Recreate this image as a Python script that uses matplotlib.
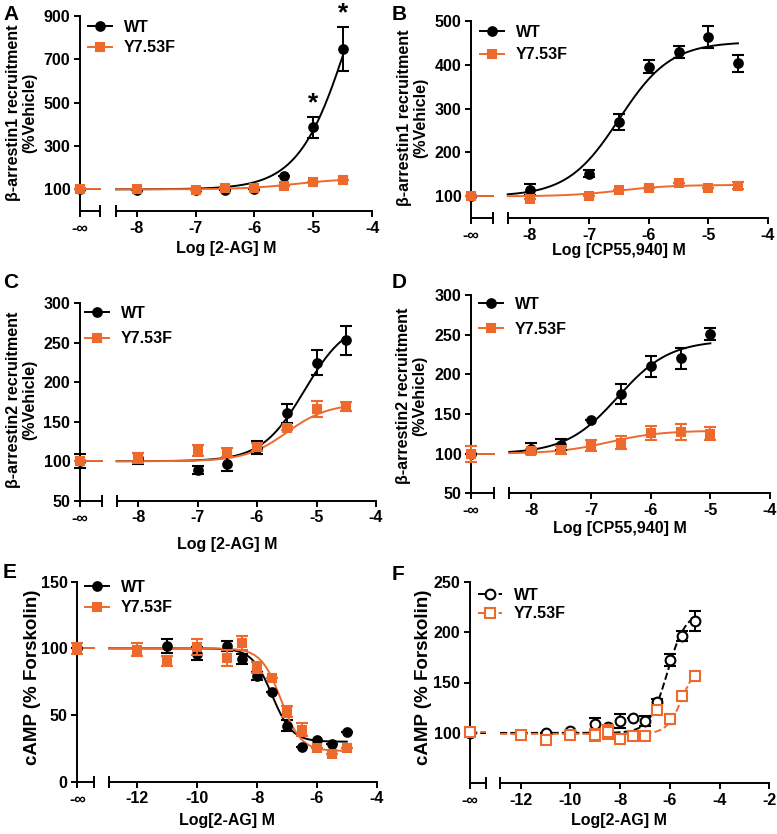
import numpy as np
import matplotlib
matplotlib.use('Agg')
import matplotlib.pyplot as plt
from matplotlib.lines import Line2D

plt.rcParams['font.family'] = ['Liberation Sans', 'DejaVu Sans']
plt.rcParams['font.weight'] = 'bold'
plt.rcParams['axes.linewidth'] = 1.4

W, H = 777, 834
BLACK = '#000000'
ORANGE = '#EE6A2C'

# ---------------- data ----------------
# Panel A: beta-arrestin1, 2-AG
A_wt_x = [-8, -7, -6.5, -6, -5.5, -5, -4.5]
A_wt_y = [97, 98, 95, 103, 163, 386, 747]
A_wt_e = [0, 0, 0, 0, 0, 47, 102]
A_mu_x = [-8, -7, -6.5, -6, -5.5, -5, -4.5]
A_mu_y = [101, 99, 105, 105, 115, 133, 142]
A_mu_e = [0, 0, 0, 0, 0, 0, 0]
A_veh = (100, 0, 100, 0)  # wt, wt_err, mut, mut_err
A_fit_wt = (100, 1570, -4.36, 1.0)
A_fit_mu = (100, 150, -5.3, 1.0)
A_star_x = [-5, -4.5]

# Panel B: beta-arrestin1, CP55,940
B_wt_x = [-8, -7, -6.5, -6, -5.5, -5, -4.5]
B_wt_y = [115, 152, 270, 395, 429, 463, 403]
B_wt_e = [13, 8, 18, 15, 14, 25, 20]
B_mu_x = [-8, -7, -6.5, -6, -5.5, -5, -4.5]
B_mu_y = [93, 100, 115, 119, 130, 120, 124]
B_mu_e = [0, 0, 0, 0, 0, 0, 8]
B_veh = (100, 0, 100, 0)
B_fit_wt = (100, 452, -6.5, 1.0)
B_fit_mu = (100, 126, -6.5, 1.0)

# Panel C: beta-arrestin2, 2-AG
C_wt_x = [-8, -7, -6.5, -6, -5.5, -5, -4.5]
C_wt_y = [103.5, 89, 96, 117, 161, 225, 253]
C_wt_e = [7, 5, 9, 8, 12, 16, 18]
C_mu_x = [-8, -7, -6.5, -6, -5.5, -5, -4.5]
C_mu_y = [104, 113, 111, 118, 142, 166, 169]
C_mu_e = [6, 7, 6, 5, 3, 10, 6]
C_veh = (100, 9, 100, 0)
C_fit_wt = (100, 280, -5.2, 1.2)
C_fit_mu = (100, 173, -5.5, 1.25)

# Panel D: beta-arrestin2, CP55,940
D_wt_x = [-8, -7.5, -7, -6.5, -6, -5.5, -5]
D_wt_y = [106, 111, 143, 175, 210, 220, 251]
D_wt_e = [7, 7, 0, 13, 13, 13, 8]
D_mu_x = [-8, -7.5, -7, -6.5, -6, -5.5, -5]
D_mu_y = [103, 105, 110, 114, 126, 127, 125]
D_mu_e = [3, 5, 7, 8, 9, 10, 8]
D_veh = (100, 0, 100, 10)
D_fit_wt = (100, 243, -6.55, 1.0)
D_fit_mu = (100, 129, -6.7, 1.0)

# Panel E: cAMP, 2-AG (inhibition)
E_wt_x = [-11, -10, -9, -8.5, -8, -7.5, -7, -6.5, -6, -5.5, -5]
E_wt_y = [101.75, 96, 101.75, 92, 79, 67, 42, 26, 31, 28, 37.5]
E_wt_e = [5, 5, 4, 4, 3, 0, 4, 0, 0, 0, 0]
E_mu_x = [-12, -11, -10, -9, -8.5, -8, -7.5, -7, -6.5, -6, -5.5, -5]
E_mu_y = [99, 90.5, 101, 93, 104, 85.5, 77.5, 52.5, 39, 25.5, 20.5, 25.5]
E_mu_e = [5, 4, 6, 6, 5, 4, 0, 4, 5, 0, 0, 0]
E_veh = (100, 0, 100, 4)
E_fit_wt = (100, 30, -7.5, 1.3)
E_fit_mu = (100, 23, -7.2, 1.3)

# Panel F: cAMP, 2-AG (stimulation)
F_wt_x = [-11, -10, -9, -8.5, -8, -7.5, -7, -6.5, -6, -5.5, -5]
F_wt_y = [100, 102, 109, 106, 112, 114.6, 111.6, 130.5, 172, 196, 211]
F_wt_e = [0, 0, 6, 0, 7, 0, 5, 3, 6, 5, 10]
F_mu_x = [-12, -11, -10, -9, -8.5, -8, -7.5, -7, -6.5, -6, -5.5, -5]
F_mu_y = [98, 93, 98, 98, 101, 94, 96.7, 96.7, 123, 114, 136.5, 156.4]
F_mu_e = [3, 0, 0, 6, 7, 0, 0, 0, 5, 5, 0, 5]
F_veh = (100, 0, 101, 0)
F_fit_wt = (100, 220, -6.1, 1.2)
F_fit_mu = (99, 170, -5.5, 1.4)

LABELS = ['WT', 'Y7.53F']

TICK_FS = 11.5
LAB_FS = 11.5
LEG_FS = 11.5


def hill(x, bottom, top, logec, h):
    x = np.asarray(x, dtype=float)
    return bottom + (top - bottom) / (1 + 10 ** ((logec - x) * h))


fig = plt.figure(figsize=(W / 100, H / 100), dpi=100)


def fx(x):
    return x / W


def fy(y):
    return 1 - y / H


def add_line(x0, y0, x1, y1):
    fig.add_artist(Line2D([fx(x0), fx(x1)], [fy(y0), fy(y1)],
                          transform=fig.transFigure, color='black', lw=1.4,
                          solid_capstyle='butt'))


def panel(letter, letter_xy, yax_x, brk_x, m_x0, m_x1, y_top, y_bot,
          xlim, ylim, yticks, xticks, xlabel, xlabel_xy, ylabel, ylabel_xy,
          wt, mu, veh, fit_wt, fit_mu, leg_xy, leg_space, open_marks=False,
          mut_on_top=True, stars=None, ylab_fs=11.6):
    h = (y_bot - y_top) / H
    axl = fig.add_axes([fx(yax_x), fy(y_bot), (brk_x - yax_x) / W, h])
    axm = fig.add_axes([fx(m_x0), fy(y_bot), (m_x1 - m_x0) / W, h])
    for ax in (axl, axm):
        ax.set_ylim(*ylim)
        ax.spines['top'].set_visible(False)
        ax.spines['right'].set_visible(False)
        ax.patch.set_alpha(0)
        ax.tick_params(direction='out', length=4.5, width=1.4,
                       labelsize=TICK_FS, pad=2.5)
    axm.spines['left'].set_visible(False)
    axm.tick_params(axis='y', left=False, labelleft=False)
    axl.set_xlim(0, 1)
    axl.set_xticks([0])
    axl.set_xticklabels(['-∞'])
    axl.set_yticks(yticks)
    axm.set_xlim(*xlim)
    axm.set_xticks(xticks)
    axm.set_xticklabels([f'{t:g}' for t in xticks])
    for lab in axl.get_yticklabels() + axl.get_xticklabels() + axm.get_xticklabels():
        lab.set_fontweight('bold')
    # axis break marks
    add_line(brk_x, y_bot - 6, brk_x, y_bot + 6)
    add_line(m_x0, y_bot - 6, m_x0, y_bot + 6)

    ls = '--' if open_marks else '-'
    series = [(wt, BLACK, 'o', fit_wt, veh[0], veh[1], 5),
              (mu, ORANGE, 's', fit_mu, veh[2], veh[3], 6)]
    if not mut_on_top:
        series = series[::-1]
    handles = []
    for (xs, ys, es), col, mk, fit, vv, ve, z in series:
        mfc = 'white' if open_marks else col
        ms = 7 if open_marks else 6.2
        axl.plot([0, 1], [vv, vv], color=col, lw=1.4, ls=ls, zorder=z, clip_on=False)
        axl.errorbar([0], [vv], yerr=[ve], fmt=mk, color=col, mfc=mfc, mec=col,
                     mew=1.5, ms=ms, capsize=4.5, elinewidth=1.4, capthick=1.4,
                     zorder=z + 1, clip_on=False)
        xx = np.linspace(xlim[0], max(xs), 300)
        axm.plot(xx, hill(xx, *fit), color=col, lw=1.4, ls=ls, zorder=z,
                 clip_on=False)
        axm.errorbar(xs, ys, yerr=es, fmt=mk, color=col, mfc=mfc, mec=col,
                     mew=1.5, ms=ms, capsize=4.5, elinewidth=1.4, capthick=1.4,
                     zorder=z + 1, clip_on=False)
        handles.append(Line2D([], [], color=col, lw=1.4, ls=ls, marker=mk,
                              mfc=mfc, mec=col, mew=1.5, ms=ms))
    if not mut_on_top:
        handles = handles[::-1]
    axm.legend(handles, LABELS, loc='upper left',
               bbox_to_anchor=(fx(leg_xy[0]), fy(leg_xy[1])),
               bbox_transform=fig.transFigure, frameon=False, borderpad=0,
               borderaxespad=0, handlelength=1.5, handletextpad=0.75,
               labelspacing=leg_space, prop={'size': LEG_FS, 'weight': 'bold'})
    if stars is not None:
        for sx in stars:
            i = list(wt[0]).index(sx)
            axm.annotate('*', (sx, wt[1][i] + wt[2][i]), xytext=(0, 1),
                         textcoords='offset points', ha='center', va='bottom',
                         fontsize=19, fontweight='bold')
    fig.text(fx(letter_xy[0]), fy(letter_xy[1]), letter, fontsize=15,
             fontweight='bold', ha='left', va='center')
    fig.text(fx(xlabel_xy[0]), fy(xlabel_xy[1]), xlabel, fontsize=LAB_FS,
             fontweight='bold', ha='center', va='center')
    fig.text(fx(ylabel_xy[0]), fy(ylabel_xy[1]), ylabel, fontsize=ylab_fs,
             fontweight='bold', ha='center', va='center', rotation=90,
             multialignment='center', linespacing=1.1)
    return axl, axm


panel('A', (3, 15), 80, 100, 116, 372.3, 16, 211, (-8.35, -4), (0, 900),
      [100, 300, 500, 700, 900], [-8, -7, -6, -5, -4], 'Log [2-AG] M', (226, 249),
      'β-arrestin1 recruitment\n(%Vehicle)', (22, 113),
      (A_wt_x, A_wt_y, A_wt_e), (A_mu_x, A_mu_y, A_mu_e), A_veh, A_fit_wt, A_fit_mu,
      (88, 20), 0.34, stars=A_star_x)

panel('B', (392, 15), 471, 492.7, 507.7, 767.7, 20.7, 218.3, (-8.375, -4), (50, 500),
      [100, 200, 300, 400, 500], [-8, -7, -6, -5, -4], 'Log [CP55,940] M', (619, 250),
      'β-arrestin1 recruitment\n(%Vehicle)', (413, 118),
      (B_wt_x, B_wt_y, B_wt_e), (B_mu_x, B_mu_y, B_mu_e), B_veh, B_fit_wt, B_fit_mu,
      (480, 25), 0.46)

panel('C', (3, 283), 80, 101.7, 116.7, 376, 303.3, 500.7, (-8.36, -4), (50, 300),
      [50, 100, 150, 200, 250, 300], [-8, -7, -6, -5, -4], 'Log [2-AG] M', (227, 545),
      'β-arrestin2 recruitment\n(%Vehicle)', (22, 400),
      (C_wt_x, C_wt_y, C_wt_e), (C_mu_x, C_mu_y, C_mu_e), C_veh, C_fit_wt, C_fit_mu,
      (85, 306), 0.65, mut_on_top=False)

panel('D', (392, 283), 471, 494, 509.3, 770, 295, 493.3, (-8.37, -4), (50, 300),
      [50, 100, 150, 200, 250, 300], [-8, -7, -6, -5, -4], 'Log [CP55,940] M', (620, 529),
      'β-arrestin2 recruitment\n(%Vehicle)', (412, 396),
      (D_wt_x, D_wt_y, D_wt_e), (D_mu_x, D_mu_y, D_mu_e), D_veh, D_fit_wt, D_fit_mu,
      (479, 297), 0.63, mut_on_top=False)

panel('E', (3, 573), 77.3, 94.3, 109, 376.7, 581.7, 781.7, (-12.95, -4), (0, 150),
      [0, 50, 100, 150], [-12, -10, -8, -6, -4], 'Log[2-AG] M', (227, 821),
      'cAMP (% Forskolin)', (33, 677),
      (E_wt_x, E_wt_y, E_wt_e), (E_mu_x, E_mu_y, E_mu_e), E_veh, E_fit_wt, E_fit_mu,
      (85, 580), 0.32, ylab_fs=13.5)

panel('F', (392, 575), 470, 486, 500, 769.3, 581.7, 783.3, (-12.83, -2), (50, 250),
      [100, 150, 200, 250], [-12, -10, -8, -6, -4, -2], 'Log[2-AG] M', (619, 821),
      'cAMP (% Forskolin)', (423, 677),
      (F_wt_x, F_wt_y, F_wt_e), (F_mu_x, F_mu_y, F_mu_e), F_veh, F_fit_wt, F_fit_mu,
      (478, 588), 0.21, open_marks=True, ylab_fs=13.5)

fig.savefig('out.png', dpi=100)
